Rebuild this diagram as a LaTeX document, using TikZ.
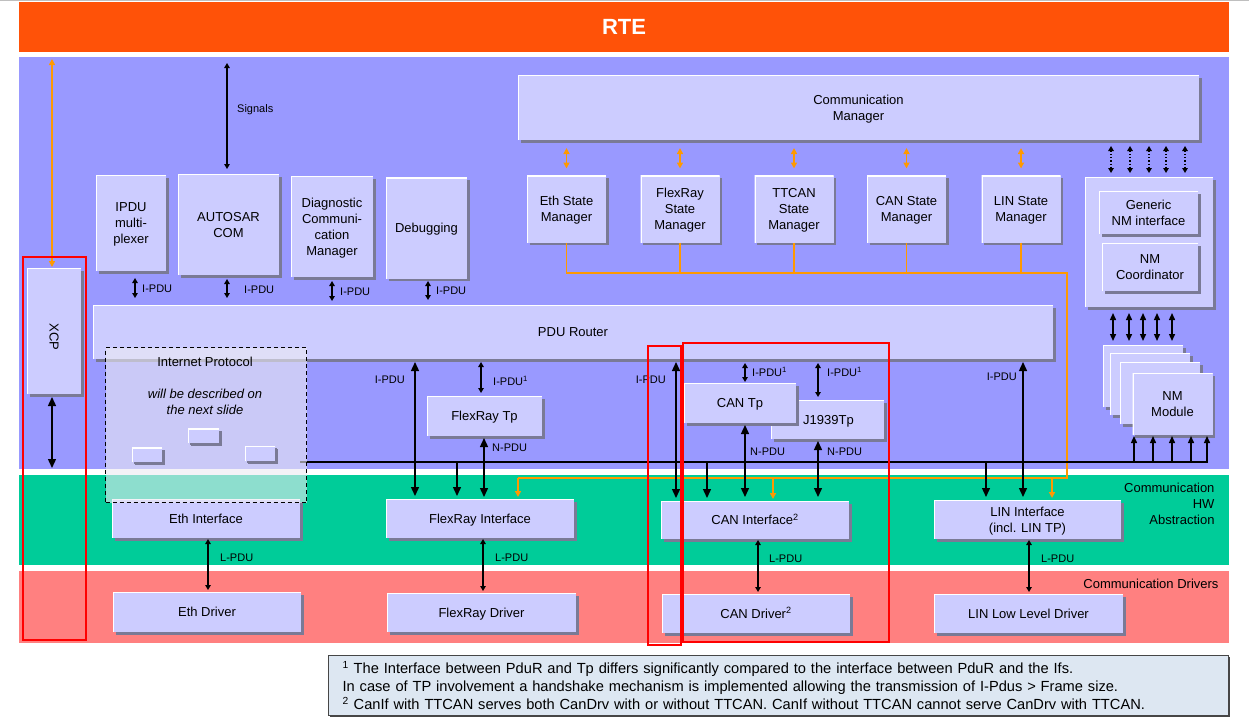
\documentclass[tikz,border=0pt]{standalone}
\usepackage{fontspec}
\setmainfont{Liberation Sans}
\usetikzlibrary{arrows.meta,shadows}

\definecolor{RteOrange}{RGB}{255,82,8}
\definecolor{LayerBlue}{RGB}{153,153,255}
\definecolor{LayerGreen}{RGB}{0,204,153}
\definecolor{LayerRed}{RGB}{255,128,128}
\definecolor{ModuleFill}{RGB}{204,204,255}
\definecolor{ModuleShadow}{RGB}{122,122,150}
\definecolor{SignalOrange}{RGB}{255,153,0}
\definecolor{IpFill}{RGB}{236,234,242}
\definecolor{NoteFill}{RGB}{221,231,242}
\definecolor{NoteBorder}{RGB}{70,70,70}

\newcommand{\modsize}{\fontsize{13}{16}\selectfont}
\newcommand{\pdusize}{\fontsize{11}{13}\selectfont}
\newcommand{\linestrut}{\rule[-2.7pt]{0pt}{14.7pt}}

\begin{document}
\begin{tikzpicture}[x=1pt,y=-1pt]
  \tikzset{ModuleStyle/.style 2 args = {shape          = rectangle,
                                        fill           = ModuleFill,
                                        minimum width  = #1,
                                        minimum height = #2,
                                        inner sep      = 1pt,
                                        outer sep      = 0pt,
                                        align          = center,
                                        font           = \modsize,
                                        execute at begin node = \linestrut,
                                        execute at end node   = \linestrut,
                                        drop shadow    = {shadow xshift=2.5pt,shadow yshift=-2.5pt,
                                                          fill=ModuleShadow,opacity=1},
                                        path picture   = {\draw[white,line width=2pt]
                                          (path picture bounding box.south west) |-
                                          (path picture bounding box.north east);}}}
  \tikzset{MultiLine/.style   = {text depth=-3.5pt}}
  \tikzset{PlainText/.style   = {execute at begin node={}, execute at end node={}}}
  \tikzset{LayerStyle/.style 2 args = {fill           = #1,
                                       minimum width  = 1210,
                                       minimum height = #2,
                                       anchor         = north west,
                                       inner sep      = 0pt,
                                       outer sep      = 0pt}}
  \tikzset{PduLabel/.style    = {font=\pdusize, inner sep=1pt}}
  \tikzset{PduArrow/.style    = {line width=1.4pt, >={Triangle[length=9pt,width=8pt]}}}
  \tikzset{MidArrow/.style    = {line width=1.4pt, >={Triangle[length=7pt,width=6pt]}}}
  \tikzset{SmallArrow/.style  = {line width=1.4pt, >={Triangle[length=5pt,width=5.5pt]}}}
  \tikzset{DottedArrow/.style = {line width=1.2pt, dotted, >={Triangle[length=5pt,width=5.5pt]}}}
  \tikzset{OrangeLine/.style  = {draw=SignalOrange, line width=1.8pt}}
  \tikzset{OrangeArrow/.style = {draw=SignalOrange, line width=1.8pt,
                                 >={Triangle[length=6pt,width=6pt,fill=SignalOrange]}}}
  \tikzset{BusLine/.style     = {line width=1.4pt}}
  \tikzset{FrameStyle/.style  = {draw=red, line width=2pt}}

\useasboundingbox (0,0) rectangle (1249,723);
\draw[black!25, line width=0.8pt] (0,0.5) -- (1249,0.5);

% layers
\node[LayerStyle={RteOrange}{50}, text=white, font=\fontsize{22}{26}\selectfont\bfseries] (Rte) at (19,2) {RTE};
\node[LayerStyle={LayerBlue}{412}]  (BswLayer) at (19,57)  {};
\node[LayerStyle={LayerGreen}{90}]  (HwLayer)  at (19,475) {};
\node[LayerStyle={LayerRed}{72}]    (DrvLayer) at (19,571) {};

\node[font=\modsize, align=right, anchor=east] (HwText)  at (1218,504) {Communication\\HW\\Abstraction};
\node[font=\modsize, anchor=east]              (DrvText) at (1222,584) {Communication Drivers};

% bus and orange state manager net
\coordinate (BusStart)  at (300,462);
\coordinate (BusEnd)    at (1208,462);
\coordinate (OrangeTop) at (1067,273);
\coordinate (OrangeLow) at (1067,478);

% upper modules
\node[ModuleStyle={681}{65}, MultiLine]  (CommMgr) at (858.5,107.5) {Communication\\Manager};
\node[ModuleStyle={70}{96}, MultiLine]   (IpduMux) at (131,223)     {IPDU\\multi-\\plexer};
\node[ModuleStyle={101}{101}, MultiLine] (Com)     at (228.5,224.5) {AUTOSAR\\COM};
\node[ModuleStyle={82}{101}, MultiLine]  (Dcm)     at (332,226.5)   {Diagnostic\\Communi-\\cation\\Manager};
\node[ModuleStyle={81}{101}]             (Dbg)     at (426.5,228)   {Debugging};

\foreach \name/\cx/\txt in {EthSm/566.5/{Eth State\\Manager},
                            FrSm/680/{FlexRay\\State\\Manager},
                            TtSm/794/{TTCAN\\State\\Manager},
                            CanSm/906.5/{CAN State\\Manager},
                            LinSm/1021/{LIN State\\Manager}}
  \node[ModuleStyle={79}{67}, MultiLine] (\name) at (\cx,209) {\txt};

\node[ModuleStyle={128}{130}] (NmBox)   at (1149,242)   {};
\node[ModuleStyle={99}{43}, MultiLine]   (GenNm)   at (1148.5,212.5) {Generic\\NM interface};
\node[ModuleStyle={96}{48}, MultiLine]   (NmCoord) at (1150,267)   {NM\\Coordinator};

\foreach \cx/\cy [count=\i] in {1143/376,1150/384,1160/393}
  \node[ModuleStyle={80}{62}] (NmMod\i) at (\cx,\cy) {};
\node[ModuleStyle={80}{62}, MultiLine] (NmMod4) at (1172.5,404) {NM\\Module};

\node[ModuleStyle={960}{54}] (PduR) at (573,332) {PDU Router};
\node[ModuleStyle={54}{126}, PlainText] (Xcp)  at (54,331)  {\rotatebox{-90}{XCP}};

% transport protocols
\node[ModuleStyle={115}{40}] (FrTp)    at (484.5,416)  {FlexRay Tp};
\node[ModuleStyle={113}{39}] (J1939Tp) at (827.5,419.5) {\hspace*{2pt}J1939Tp};
\node[ModuleStyle={112}{40}] (CanTp)   at (740,403)    {CAN Tp};

% interfaces and drivers
\node[ModuleStyle={188}{39}] (EthIf)  at (206,518.5)    {Eth Interface};
\node[ModuleStyle={188}{39}] (FrIf)   at (480,518.5)    {FlexRay Interface};
\node[ModuleStyle={188}{38}] (CanIf)  at (755,520)      {CAN Interface\textsuperscript{2}};
\node[ModuleStyle={187}{39}, MultiLine] (LinIf)  at (1027.5,519.5) {LIN Interface\\(incl. LIN TP)};
\node[ModuleStyle={188}{40}] (EthDrv) at (207,612)      {Eth Driver};
\node[ModuleStyle={189}{39}] (FrDrv)  at (481.5,612.5)  {FlexRay Driver};
\node[ModuleStyle={188}{39}] (CanDrv) at (756,613.5)    {CAN Driver\textsuperscript{2}};
\node[ModuleStyle={189}{39}] (LinDrv) at (1028.5,613.5) {LIN Low Level Driver};

% orange lines
\draw[OrangeLine] (EthSm.south) |- (OrangeTop) -- (OrangeLow) -- ([xshift=38pt]FrIf.north |- OrangeLow);
\foreach \sm in {FrSm,TtSm,CanSm,LinSm}
  \draw[OrangeLine] (\sm.south) -- (\sm.south |- OrangeTop);
\foreach \itf/\dx in {FrIf/38,CanIf/18,LinIf/24.5}
  \draw[OrangeArrow,->,shorten >=2pt] ([xshift=\dx pt]\itf.north |- OrangeLow) -- ([xshift=\dx pt]\itf.north);
\foreach \sm in {EthSm,FrSm,TtSm,CanSm,LinSm}
  \draw[OrangeArrow,<->,shorten <=8pt,shorten >=7pt] (\sm.north |- CommMgr.south) -- (\sm.north);
\draw[OrangeArrow,<->,shorten <=7pt,shorten >=1pt] ([xshift=-2pt]Xcp.north |- Rte.south) -- ([xshift=-2pt]Xcp.north);

% black connectors
\draw[BusLine] (BusStart) -- (BusEnd);
\draw[SmallArrow,<->,shorten <=11pt,shorten >=5pt] ([xshift=-1.5pt]Com.north |- Rte.south) -- ([xshift=-1.5pt]Com.north);
\draw[PduArrow,<->,shorten <=3pt,shorten >=1pt] ([xshift=-2pt]Xcp.south) -- ([xshift=-2pt]Xcp.south |- BswLayer.south);
\foreach \mod/\dx/\sa/\sb in {IpduMux/4/7/7,Com/-1.5/4/7,Dcm/0/4/4,Dbg/1.5/2.5/5}
  \draw[SmallArrow,<->,shorten <=\sa pt,shorten >=\sb pt] ([xshift=\dx pt]\mod.south) -- ([xshift=\dx pt]\mod.south |- PduR.north);

\foreach \dx in {-38,-19,0,17,36}
  \draw[DottedArrow,<->,shorten <=6pt,shorten >=4pt] ([xshift=\dx pt]NmBox.north |- CommMgr.south) -- ([xshift=\dx pt]NmBox.north);
\foreach \dx in {-36,-20,-6,8,23}
  \draw[MidArrow,<->,shorten <=6pt,shorten >=4pt] ([xshift=\dx pt]NmBox.south) -- ([xshift=\dx pt]NmBox.south |- NmMod1.north);
\foreach \dx in {-38.5,-19.5,-0.5,18.5,34.5}
  \draw[MidArrow,->,shorten >=1pt] ([xshift=\dx pt]NmMod4.south |- BusEnd) -- ([xshift=\dx pt]NmMod4.south);

\foreach \itf/\dx in {FrIf/-23,CanIf/-48,LinIf/-41.5}
  \draw[PduArrow,->,shorten >=3pt] ([xshift=\dx pt]\itf.north |- BusStart) -- ([xshift=\dx pt]\itf.north);
\foreach \itf/\dx in {FrIf/-65,CanIf/-79,LinIf/-4.5}
  \draw[PduArrow,<->,shorten <=3pt,shorten >=3pt] ([xshift=\dx pt]\itf.north |- PduR.south) -- ([xshift=\dx pt]\itf.north);

\draw[SmallArrow,<->,shorten <=3pt,shorten >=3pt] ([xshift=-3.5pt]FrTp.north |- PduR.south) -- ([xshift=-3.5pt]FrTp.north);
\draw[SmallArrow,<->,shorten <=4pt,shorten >=1pt] ([xshift=5pt]CanTp.north |- PduR.south) -- ([xshift=5pt]CanTp.north);
\draw[SmallArrow,<->,shorten <=4pt,shorten >=3pt] ([xshift=-9.5pt]J1939Tp.north |- PduR.south) -- ([xshift=-9.5pt]J1939Tp.north);
\draw[PduArrow,<->,shorten <=2pt,shorten >=2pt] ([xshift=-0.5pt]FrTp.south) -- ([xshift=-0.5pt]FrTp.south |- FrIf.north);
\draw[PduArrow,<->,shorten <=2pt,shorten >=4pt] ([xshift=5pt]CanTp.south) -- ([xshift=5pt]CanTp.south |- CanIf.north);
\draw[PduArrow,<->,shorten <=2pt,shorten >=4pt] ([xshift=-9.5pt]J1939Tp.south) -- ([xshift=-9.5pt]J1939Tp.south |- CanIf.north);

\foreach \itf/\drv/\dx in {EthIf/EthDrv/2,FrIf/FrDrv/3,CanIf/CanDrv/3,LinIf/LinDrv/1.5}
  \draw[SmallArrow,<->,shorten <=1pt,shorten >=2pt] ([xshift=\dx pt]\itf.south) -- ([xshift=\dx pt]\itf.south |- \drv.north);

% internet protocol (next slide)
\node[draw, line width=1.2pt, dash pattern=on 4pt off 3pt, fill=IpFill, fill opacity=0.6,
      minimum width=201, minimum height=155, anchor=north west, inner sep=0pt] (IpBox) at (105,347) {};
\node[font=\modsize] (IpTitle) at (205,362) {Internet Protocol};
\node[font=\modsize\itshape, align=center] (IpNote) at (205,402) {will be described on\\the next slide};
\tikzset{IpModStyle/.style = {PlainText, inner sep=0pt,
                              drop shadow={shadow xshift=2pt,shadow yshift=-2pt,fill=ModuleShadow,opacity=1}}}
\node[ModuleStyle={31}{12}, IpModStyle] (IpMod1) at (203.5,436) {};
\node[ModuleStyle={30}{12}, IpModStyle] (IpMod2) at (147,455)   {};
\node[ModuleStyle={30}{15}, IpModStyle] (IpMod3) at (260,453.5) {};

% pdu labels
\node[PduLabel, anchor=west] (LblSignals) at (236,110) {Signals};
\node[PduLabel, anchor=west] (LblIpdu1)   at (141,289) {I-PDU};
\node[PduLabel, anchor=west] (LblIpdu2)   at (243,290) {I-PDU};
\node[PduLabel, anchor=west] (LblIpdu3)   at (339,292) {I-PDU};
\node[PduLabel, anchor=west] (LblIpdu4)   at (435,291) {I-PDU};
\node[PduLabel, anchor=east] (LblFrIpdu)  at (406,380) {I-PDU};
\node[PduLabel, anchor=west] (LblFrTp)    at (492,381) {I-PDU\textsuperscript{1}};
\node[PduLabel, anchor=west] (LblFrNpdu)  at (491,448) {N-PDU};
\node[PduLabel, anchor=east] (LblCanIpdu) at (667,380) {I-PDU};
\node[PduLabel, anchor=west] (LblCanTp)   at (751,372) {I-PDU\textsuperscript{1}};
\node[PduLabel, anchor=west] (LblJTp)     at (826,372) {I-PDU\textsuperscript{1}};
\node[PduLabel, anchor=west] (LblCanNpdu) at (749,452) {N-PDU};
\node[PduLabel, anchor=west] (LblJNpdu)   at (826,452) {N-PDU};
\node[PduLabel, anchor=east] (LblLinIpdu) at (1018,377) {I-PDU};
\node[PduLabel, anchor=west] (LblEthL)    at (219,558) {L-PDU};
\node[PduLabel, anchor=west] (LblFrL)     at (494,558) {L-PDU};
\node[PduLabel, anchor=west] (LblCanL)    at (768,559) {L-PDU};
\node[PduLabel, anchor=west] (LblLinL)    at (1040,559) {L-PDU};

% red frames
\draw[FrameStyle] (23,257) rectangle (86,640);
\draw[FrameStyle] (648,346) rectangle (681,645);
\draw[FrameStyle] (683,343) rectangle (889,642);

% footnotes
\node[draw=NoteBorder, line width=1.2pt, fill=NoteFill, anchor=north west,
      minimum width=900, minimum height=60, text width=872pt, inner xsep=13pt, inner ysep=0pt,
      align=left, font=\fontsize{14.65}{18}\selectfont,
      drop shadow={shadow xshift=1.2pt,shadow yshift=-1.2pt,fill=NoteBorder,opacity=1}] (Notes) at (328,655)
  {\textsuperscript{1} The Interface between PduR and Tp differs significantly compared to the interface between PduR and the Ifs.\\
   In case of TP involvement a handshake mechanism is implemented allowing the transmission of I-Pdus > Frame size.\\
   \textsuperscript{2} CanIf with TTCAN serves both CanDrv with or without TTCAN. CanIf without TTCAN cannot serve CanDrv with TTCAN.};
\end{tikzpicture}
\end{document}
